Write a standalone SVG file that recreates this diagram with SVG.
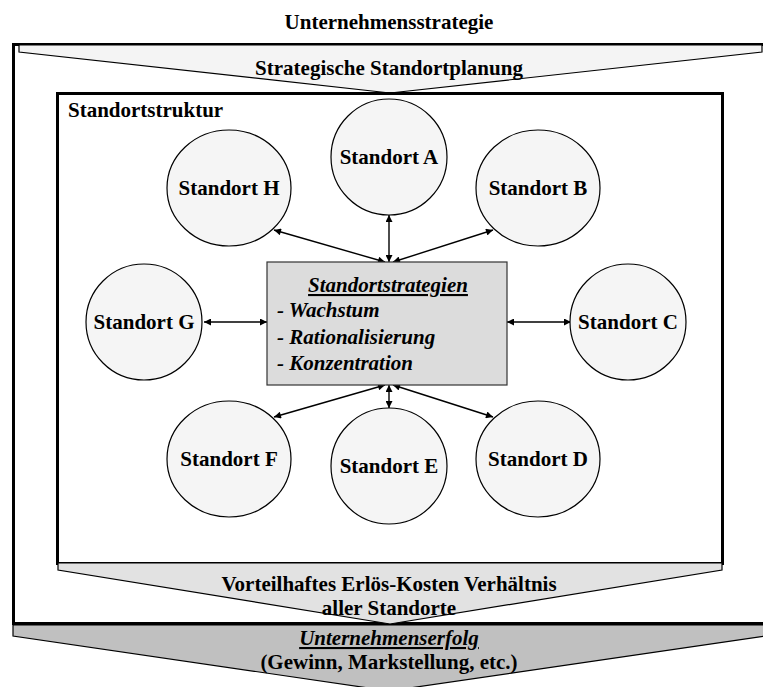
<svg xmlns="http://www.w3.org/2000/svg" width="763" height="687" viewBox="0 0 763 687">
  <style>
    text { font-family: "Liberation Serif", "Times New Roman", serif; font-weight: bold; font-size: 21px; fill: #000; }
    .c { text-anchor: middle; }
    .it { font-style: italic; }
    .site ellipse { fill: #f5f5f5; stroke: #000; stroke-width: 1.2; }
    .link { stroke: #000; stroke-width: 1.4; fill: none; marker-start: url(#ah); marker-end: url(#ah); }
    .frame { fill: none; stroke: #000; stroke-width: 3; }
    .band { stroke: #000; stroke-width: 1.2; }
  </style>
  <defs>
    <marker id="ah" viewBox="0 0 10 10" refX="10" refY="5" markerWidth="9" markerHeight="7" orient="auto-start-reverse" markerUnits="userSpaceOnUse">
      <path d="M0,0 L10,5 L0,10 z" fill="#000"/>
    </marker>
  </defs>

  <rect width="763" height="687" fill="#fff"/>

  <!-- company strategy heading -->
  <text class="c" x="389" y="29">Unternehmensstrategie</text>

  <!-- outer frame -->
  <g id="outer-frame">
    <rect class="frame" x="13.5" y="44.5" width="770" height="579"/>
  </g>

  <!-- strategic planning band -->
  <g id="planning">
    <polygon class="band" fill="#f4f4f4" points="19,45 762,45 762,52 390,93 19,52"/>
    <text class="c" x="389" y="75">Strategische Standortplanung</text>
  </g>

  <!-- site structure frame -->
  <g id="structure">
    <rect class="frame" x="57.5" y="93.5" width="665" height="470"/>
    <text x="68" y="117">Standortstruktur</text>
  </g>

  <!-- connectors -->
  <g id="connectors">
    <line class="link" x1="389" y1="215" x2="389" y2="262"/>
    <line class="link" x1="274" y1="230" x2="385" y2="262"/>
    <line class="link" x1="493" y1="230" x2="393" y2="262"/>
    <line class="link" x1="204" y1="322" x2="267" y2="322"/>
    <line class="link" x1="571" y1="322" x2="507" y2="322"/>
    <line class="link" x1="274" y1="417" x2="385" y2="385"/>
    <line class="link" x1="493" y1="417" x2="393" y2="385"/>
    <line class="link" x1="389" y1="408" x2="389" y2="385"/>
  </g>

  <!-- sites -->
  <g id="site-a" class="site"><ellipse cx="389" cy="157" rx="58" ry="58"/><text class="c" x="389" y="164">Standort A</text></g>
  <g id="site-b" class="site"><ellipse cx="538" cy="188" rx="62" ry="58"/><text class="c" x="538" y="195">Standort B</text></g>
  <g id="site-c" class="site"><ellipse cx="628" cy="322" rx="58" ry="58"/><text class="c" x="628" y="329">Standort C</text></g>
  <g id="site-d" class="site"><ellipse cx="538" cy="459" rx="62" ry="58"/><text class="c" x="538" y="466">Standort D</text></g>
  <g id="site-e" class="site"><ellipse cx="389" cy="466" rx="58" ry="58"/><text class="c" x="389" y="473">Standort E</text></g>
  <g id="site-f" class="site"><ellipse cx="229" cy="459" rx="62" ry="58"/><text class="c" x="229" y="466">Standort F</text></g>
  <g id="site-g" class="site"><ellipse cx="144" cy="322" rx="58" ry="58"/><text class="c" x="144" y="329">Standort G</text></g>
  <g id="site-h" class="site"><ellipse cx="229" cy="188" rx="62" ry="58"/><text class="c" x="229" y="195">Standort H</text></g>

  <!-- site strategies -->
  <g id="strategies">
    <rect x="267" y="262" width="240" height="123" fill="#dcdcdc" stroke="#333" stroke-width="1.2"/>
    <text class="c it" x="388" y="292" text-decoration="underline">Standortstrategien</text>
    <text class="it" x="277" y="317">- Wachstum</text>
    <text class="it" x="277" y="344">- Rationalisierung</text>
    <text class="it" x="277" y="370">- Konzentration</text>
  </g>

  <!-- revenue/cost band -->
  <g id="ratio">
    <polygon class="band" fill="#e2e2e2" points="58,563 722,563 722,570 390,624 58,570"/>
    <text class="c" x="389" y="591">Vorteilhaftes Erlös-Kosten Verhältnis</text>
    <text class="c" x="389" y="615">aller Standorte</text>
  </g>

  <!-- company success band -->
  <g id="success">
    <polygon class="band" fill="#c0c0c0" points="13,625 766,625 766,636 389,691 13,636"/>
    <text class="c it" x="389" y="645" text-decoration="underline">Unternehmenserfolg</text>
    <text class="c" x="389" y="669">(Gewinn, Markstellung, etc.)</text>
  </g>
</svg>
